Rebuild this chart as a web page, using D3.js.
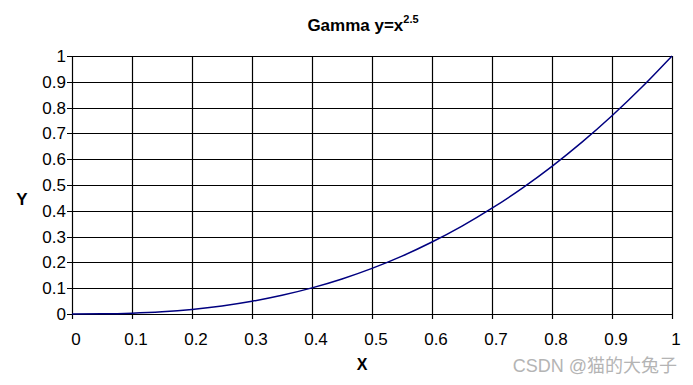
<!DOCTYPE html>
<html lang="en">
<head>
<meta charset="utf-8">
<style>
  body { margin: 0; background: #fff; }
  .tick_text { font-family: "Liberation Sans", Arial, sans-serif; font-size: 17px; fill: #000; }
  .title_text { font-family: "Liberation Sans", Arial, sans-serif; font-weight: bold; font-size: 17px; fill: #000; }
  .axis_title { font-family: "Liberation Sans", Arial, sans-serif; font-weight: bold; font-size: 17px; fill: #000; }
  .mark_text { font-family: "Liberation Sans", "Noto Sans CJK SC", sans-serif; font-size: 18px; fill: #b4b4b4; }
</style>
</head>
<body>
<div id="graph"></div>
<script src="https://cdn.jsdelivr.net/npm/d3@7"></script>
<script>
// values
var xValues = [0, 0.05, 0.1, 0.15, 0.2, 0.25, 0.3, 0.35, 0.4, 0.45, 0.5,
               0.55, 0.6, 0.65, 0.7, 0.75, 0.8, 0.85, 0.9, 0.95, 1];
var yValues = [0, 0.0006, 0.0032, 0.0087, 0.0179, 0.0313, 0.0493, 0.0725, 0.1012, 0.1358, 0.1768,
               0.2243, 0.2789, 0.3406, 0.41, 0.4871, 0.5724, 0.6661, 0.7684, 0.8796, 1];
var tickValues = [0, 0.1, 0.2, 0.3, 0.4, 0.5, 0.6, 0.7, 0.8, 0.9, 1];

var W = 693, H = 385;
var margin = {top: 56, right: 21, bottom: 71, left: 72};
var width = W - margin.left - margin.right,
    height = H - margin.top - margin.bottom;

var svg = d3.select("#graph").append("svg")
    .attr("width", W).attr("height", H);

var g = svg.append("g")
    .attr("transform", "translate(" + margin.left + "," + margin.top + ")");

var x = d3.scaleLinear().domain([0, 1]).range([0, width]);
var y = d3.scaleLinear().domain([0, 1]).range([height, 0]);

// grid
g.selectAll(".vgrid").data(tickValues).enter().append("line")
    .attr("x1", d => Math.round(x(d)) + 0.5).attr("x2", d => Math.round(x(d)) + 0.5)
    .attr("y1", 0).attr("y2", height + 5)
    .attr("stroke", "#000").attr("stroke-width", 1.2);
g.selectAll(".hgrid").data(tickValues).enter().append("line")
    .attr("y1", d => Math.round(y(d)) + 0.5).attr("y2", d => Math.round(y(d)) + 0.5)
    .attr("x1", -5).attr("x2", width)
    .attr("stroke", "#000").attr("stroke-width", 1.2);

// tick labels
g.selectAll(".xlab").data(tickValues).enter().append("text")
    .attr("class", "tick_text")
    .attr("x", d => x(d) + 4).attr("y", height + 31)
    .attr("text-anchor", "middle")
    .text(d => d3.format("")(d));
g.selectAll(".ylab").data(tickValues).enter().append("text")
    .attr("class", "tick_text")
    .attr("x", -6).attr("y", d => y(d) + 6)
    .attr("text-anchor", "end")
    .text(d => d3.format("")(d));

// curve
var pts = xValues.map((v, i) => [v, yValues[i]]);
g.append("path")
    .datum(pts)
    .attr("fill", "none")
    .attr("stroke", "#000080")
    .attr("stroke-width", 1.5)
    .attr("d", d3.line().x(d => x(d[0])).y(d => y(d[1])).curve(d3.curveMonotoneX));

// titles
var title = svg.append("text").attr("class", "title_text")
    .attr("x", 363).attr("y", 31).attr("text-anchor", "middle");
title.append("tspan").text("Gamma y=x");
title.append("tspan").attr("dy", -8).style("font-size", "11px").text("2.5");

svg.append("text").attr("class", "axis_title")
    .attr("x", 22).attr("y", 205).attr("text-anchor", "middle").text("Y");
svg.append("text").attr("class", "axis_title")
    .attr("x", 362).attr("y", 370).attr("text-anchor", "middle").style("font-size", "16px").text("X");

svg.append("text").attr("class", "mark_text")
    .attr("x", 677).attr("y", 372).attr("text-anchor", "end").text("CSDN @猫的大兔子");
</script>
</body>
</html>
